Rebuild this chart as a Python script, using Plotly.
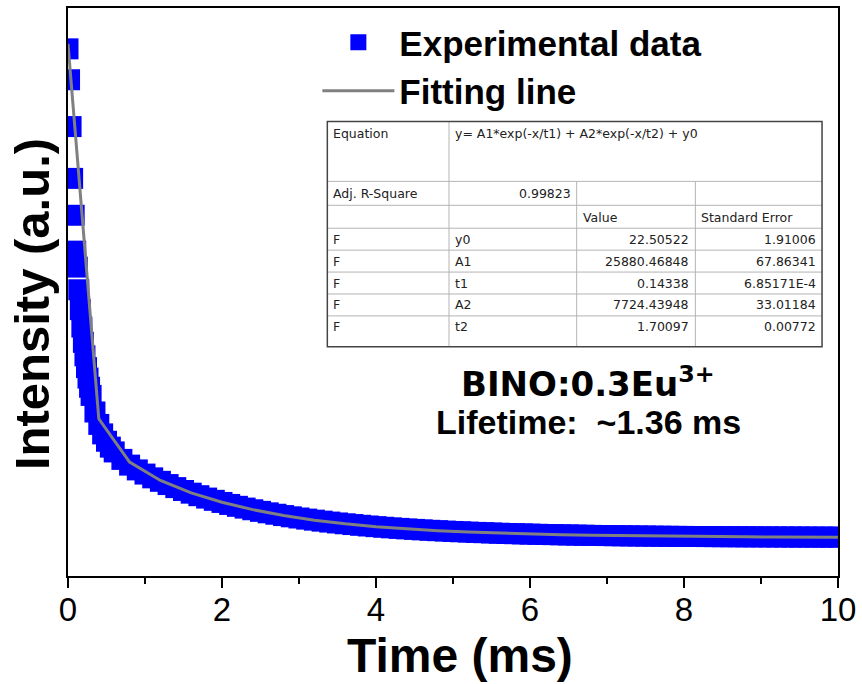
import plotly.graph_objects as go

# ---------------- data ----------------
time_exp = [0.00, 0.02, 0.04, 0.06, 0.08, 0.10, 0.12, 0.14, 0.16, 0.18, 0.20, 0.22, 0.24,
            0.26, 0.28, 0.30, 0.35, 0.40, 0.45, 0.50, 0.55, 0.60,
            0.7, 0.8, 0.9, 1.0, 1.1, 1.2, 1.3, 1.4, 1.5, 1.6, 1.7, 1.8, 1.9,
            2.0, 2.1, 2.2, 2.3, 2.4, 2.5, 2.6, 2.7, 2.8, 2.9,
            3.0, 3.1, 3.2, 3.3, 3.4, 3.5, 3.6, 3.7, 3.8, 3.9,
            4.0, 4.1, 4.2, 4.3, 4.4, 4.5, 4.6, 4.7, 4.8, 4.9,
            5.0, 5.1, 5.2, 5.3, 5.4, 5.5, 5.6, 5.7, 5.8, 5.9,
            6.0, 6.1, 6.2, 6.3, 6.4, 6.5, 6.6, 6.7, 6.8, 6.9,
            7.0, 7.1, 7.2, 7.3, 7.4, 7.5, 7.6, 7.7, 7.8, 7.9,
            8.0, 8.1, 8.2, 8.3, 8.4, 8.5, 8.6, 8.7, 8.8, 8.9,
            9.0, 9.1, 9.2, 9.3, 9.4, 9.5, 9.6, 9.7, 9.8, 9.9, 10.0]
intensity_exp = [33287, 31184, 27995, 24468, 21957, 19515, 18428, 16885, 15532, 14346, 13304, 12389, 11584,
                 10873, 10247, 9692, 8564, 7718, 7073, 6571, 6171, 5845,
                 5337, 4946, 4621, 4337, 4080, 3843, 3623, 3416, 3221, 3038, 2866, 2703, 2550,
                 2406, 2270, 2142, 2021, 1907, 1799, 1698, 1602, 1512, 1427,
                 1347, 1271, 1200, 1133, 1069, 1009, 953, 900, 850, 803,
                 758, 716, 676, 639, 604, 571, 539, 510, 482, 456,
                 431, 408, 386, 365, 346, 327, 310, 293, 278, 263,
                 250, 237, 224, 213, 202, 192, 182, 173, 164, 156,
                 149, 141, 135, 128, 122, 117, 111, 106, 101, 97,
                 93, 89, 85, 81, 78, 75, 72, 69, 66, 64,
                 61, 59, 57, 55, 53, 51, 50, 48, 47, 45, 44]

time_fit = [0.0, 0.4, 0.8, 1.2, 1.6, 2.0, 2.4, 2.8, 3.2, 3.6, 4.0, 4.4, 4.8,
            5.2, 5.6, 6.0, 6.4, 6.8, 7.2, 7.6, 8.0, 8.4, 8.8, 9.2, 9.6, 10.0]
intensity_fit = [33627, 8100, 5150, 3900, 3060, 2420, 1915, 1515, 1200, 953, 758, 604, 482,
                 386, 310, 249, 202, 164, 135, 111, 92, 78, 66, 57, 50, 44]

x_tick_vals = [0, 2, 4, 6, 8, 10]
x_tick_text = ["0", "2", "4", "6", "8", "10"]

table_equation = "y= A1*exp(-x/t1) + A2*exp(-x/t2) + y0"
table_adj_label = "Adj. R-Square"
table_adj_value = "0.99823"
table_header = ["", "", "Value", "Standard Error"]
param_flags = ["F", "F", "F", "F", "F"]
param_names = ["y0", "A1", "t1", "A2", "t2"]
param_values = ["22.50522", "25880.46848", "0.14338", "7724.43948", "1.70097"]
param_errors = ["1.91006", "67.86341", "6.85171E-4", "33.01184", "0.00772"]

# ---------------- layout geometry (pixels) ----------------
W, H = 862, 684
L, R, T, B = 68, 840, 6, 576
Y_RANGE = [-2602, 36068]
FONT = "Liberation Sans, Arial, sans-serif"
WIDE = "DejaVu Sans, Verdana, sans-serif"


def px(x):
    return (x - L) / (R - L)


def py(y):
    return (B - y) / (B - T)


fig = go.Figure()
fig.add_trace(go.Scatter(
    x=time_exp, y=intensity_exp, mode="markers", name="Experimental data",
    marker=dict(symbol="square", size=21, color="#0000FF", line=dict(width=0)),
))
fig.add_trace(go.Scatter(
    x=time_fit, y=intensity_fit, mode="lines", name="Fitting line",
    line=dict(color="#808080", width=3),
))

annotations = []
shapes = []

# axis titles
annotations.append(dict(text="<b>Time (ms)</b>", x=px(461), y=py(656), xref="paper", yref="paper",
                        showarrow=False, xanchor="center", yanchor="middle",
                        font=dict(family=FONT, size=48, color="black")))
annotations.append(dict(text="<b>Intensity (a.u.)</b>", x=px(32), y=py(303), xref="paper", yref="paper",
                        showarrow=False, xanchor="center", yanchor="middle", textangle=-90,
                        font=dict(family=FONT, size=49, color="black")))

# sample annotation
annotations.append(dict(text="<b>BINO:0.3Eu<sup>3+</sup></b>", x=px(589), y=py(381), xref="paper", yref="paper",
                        showarrow=False, xanchor="center", yanchor="middle",
                        font=dict(family=WIDE, size=34, color="black")))
annotations.append(dict(text="<b>Lifetime:\u00a0 ~1.36 ms</b>", x=px(590), y=py(421), xref="paper", yref="paper",
                        showarrow=False, xanchor="center", yanchor="middle",
                        font=dict(family=FONT, size=34, color="black")))

# ---------------- fit-result table ----------------
col_x = [328, 450, 578, 697, 824]
row_y = [120, 180, 204, 227, 249, 271, 293, 315, 346]
row_text_y = [None, 192, 216, 238, 260, 282, 304, 326]
grid = "#b4b4b4"
border = "#444444"
for yy in row_y[1:-1]:
    shapes.append(dict(type="line", xref="paper", yref="paper", x0=px(col_x[0]), x1=px(col_x[-1]),
                       y0=py(yy), y1=py(yy), line=dict(color=grid, width=1)))
shapes.append(dict(type="line", xref="paper", yref="paper", x0=px(col_x[1]), x1=px(col_x[1]),
                   y0=py(row_y[0]), y1=py(row_y[-1]), line=dict(color=grid, width=1)))
for cx in col_x[2:-1]:
    shapes.append(dict(type="line", xref="paper", yref="paper", x0=px(cx), x1=px(cx),
                       y0=py(row_y[1]), y1=py(row_y[-1]), line=dict(color=grid, width=1)))
shapes.append(dict(type="rect", xref="paper", yref="paper", x0=px(col_x[0]), x1=px(col_x[-1]),
                   y0=py(row_y[0]), y1=py(row_y[-1]), line=dict(color=border, width=1.5)))

tfont = dict(family=WIDE, size=12.5, color="#222222")


def cell(text, ci, ri, align, top=False):
    if align == "left":
        x, xa = col_x[ci] + 4, "left"
    else:
        x, xa = col_x[ci + 1] - 4, "right"
    if top:
        y, ya = row_y[ri] + 2, "top"
    else:
        y, ya = row_text_y[ri], "middle"
    annotations.append(dict(text=text, x=px(x), y=py(y), xref="paper", yref="paper", showarrow=False,
                            xanchor=xa, yanchor=ya, font=tfont))


cell("Equation", 0, 0, "left", top=True)
cell(table_equation, 1, 0, "left", top=True)
cell(table_adj_label, 0, 1, "left")
cell(table_adj_value, 1, 1, "right")
for ci, h in enumerate(table_header):
    if h:
        cell(h, ci, 2, "left")
for i in range(len(param_names)):
    cell(param_flags[i], 0, 3 + i, "left")
    cell(param_names[i], 1, 3 + i, "left")
    cell(param_values[i], 2, 3 + i, "right")
    cell(param_errors[i], 3, 3 + i, "right")

fig.update_layout(
    width=W, height=H,
    margin=dict(l=L, r=W - R, t=T, b=H - B, pad=0),
    paper_bgcolor="white", plot_bgcolor="white",
    showlegend=True,
    legend=dict(x=px(318), y=py(11), xanchor="left", yanchor="top",
                bgcolor="rgba(0,0,0,0)", borderwidth=0, tracegroupgap=0, itemwidth=72,
                font=dict(family=FONT, size=35, color="black", weight="bold")),
    annotations=annotations,
    shapes=shapes,
    xaxis=dict(range=[0, 10], tickvals=x_tick_vals, ticktext=x_tick_text,
               showline=True, linecolor="black", linewidth=2, mirror=True,
               ticks="outside", ticklen=10, tickwidth=2, tickcolor="black",
               minor=dict(dtick=1, ticks="outside", ticklen=6, tickwidth=2, tickcolor="black"),
               showgrid=False, zeroline=False, ticklabelstandoff=-7,
               tickfont=dict(family=FONT, size=33, color="black")),
    yaxis=dict(range=Y_RANGE, showline=True, linecolor="black", linewidth=2, mirror=True,
               ticks="", showticklabels=False, showgrid=False, zeroline=False),
)

fig.write_html("out.html")
